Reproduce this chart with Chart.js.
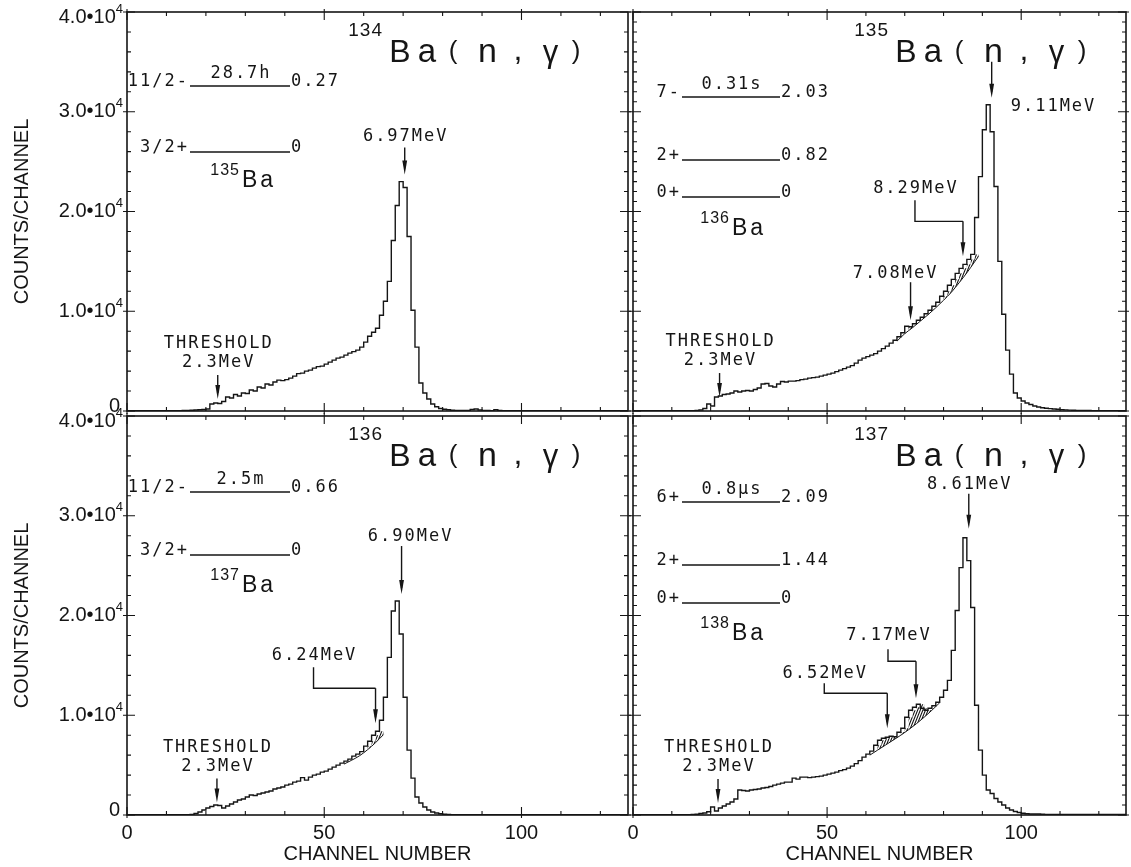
<!DOCTYPE html>
<html>
<head>
<meta charset="utf-8">
<title>Ba(n,γ) spectra</title>
<script src="https://cdn.jsdelivr.net/npm/chart.js@4.4.1/dist/chart.umd.min.js"></script>
<style>
  html, body { margin: 0; padding: 0; background: #fff; }
  #wrap { position: relative; width: 1131px; height: 867px; overflow: hidden; }
  #wrap canvas { position: absolute; left: 0; top: 0; }
</style>
</head>
<body>
<div id="wrap">
  <canvas id="ba134" width="1131" height="867"></canvas>
  <canvas id="ba135" width="1131" height="867"></canvas>
  <canvas id="ba136" width="1131" height="867"></canvas>
  <canvas id="ba137" width="1131" height="867"></canvas>
</div>
<script>
const W = 1131, H = 867;
const INK = '#151515';
const SANS = '"Liberation Sans", Arial, sans-serif';
const MONO = '"DejaVu Sans Mono", monospace';

const CH_MAX = 127;
const COUNT_MAX = 40000;

// counts per channel, channel 0 first
const counts134 = [
  40, 40, 30, 30, 30, 30, 30, 30, 30, 30,
  30, 30, 30, 40, 40, 50, 60, 80, 100, 120,
  150, 200, 700, 800, 750, 950, 1400, 1300, 1650, 1500,
  1800, 1750, 2100, 2000, 2400, 2300, 2700, 2600, 2900, 3100,
  3050, 3150, 3300, 3500, 3750, 3800, 4000, 4100, 4300, 4450,
  4500, 4700, 4900, 5100, 5300, 5400, 5600, 5800, 5950, 6100,
  6400, 6900, 7500, 7900, 8300, 9600, 11000, 13000, 17100, 20600,
  23000, 22400, 17500, 10100, 6400, 2800, 1800, 1200, 700, 430,
  250, 170, 120, 80, 60, 50, 50, 60, 150, 200,
  100, 60, 50, 40, 120, 60, 40, 40, 40, 40,
  40, 40, 40, 40, 40, 40, 40, 40, 40, 40,
  40, 40, 40, 40, 40, 40, 40, 40, 40, 40,
  40, 40, 40, 40, 40, 40, 40
];
const counts135 = [
  30, 30, 30, 30, 30, 30, 30, 30, 30, 30,
  30, 30, 30, 30, 30, 30, 30, 50, 100, 250,
  700, 500, 1400, 1500, 1650, 1700, 1800, 2000, 1900, 2000,
  2050, 2000, 2150, 2300, 2700, 2750, 2500, 2400, 2700, 2950,
  2900, 3000, 3000, 3050, 3150, 3200, 3300, 3350, 3400, 3500,
  3600, 3700, 3800, 3950, 4100, 4250, 4400, 4550, 4800, 5100,
  5300, 5450, 5600, 5750, 6000, 6250, 6500, 6800, 7100, 7450,
  7850, 8500, 8450, 8750, 9100, 9400, 9750, 10100, 10500, 10900,
  11500, 12000, 12600, 13200, 13800, 14300, 14700, 15200, 15700, 19400,
  23500, 28200, 30700, 28000, 22500, 15000, 9700, 6100, 3700, 1800,
  1300, 1000, 800, 650, 500, 400, 330, 280, 240, 200,
  170, 140, 110, 90, 70, 50, 50, 50, 50, 40,
  40, 40, 40, 40, 40, 40, 40
];
const counts136 = [
  30, 30, 30, 30, 30, 30, 30, 30, 30, 30,
  30, 30, 30, 30, 30, 30, 30, 60, 150, 300,
  500, 700, 850, 1000, 950, 700, 900, 1100, 1300, 1500,
  1600, 1800, 2000, 1950, 2100, 2200, 2300, 2400, 2600, 2700,
  2800, 3000, 3100, 3300, 3400, 3750, 3500, 3800, 4000, 4100,
  4300, 4400, 4600, 4800, 5000, 5200, 5400, 5600, 5900, 6100,
  6350, 6900, 7400, 8000, 8400, 9500, 11800, 15800, 20450, 21450,
  18150, 11800, 6500, 3700, 1800, 1200, 800, 500, 300, 200,
  120, 80, 50, 40, 40, 40, 40, 40, 40, 40,
  40, 40, 40, 40, 40, 40, 40, 40, 40, 40,
  40, 40, 40, 40, 40, 40, 40, 40, 40, 40,
  40, 40, 40, 40, 40, 40, 40, 40, 40, 40,
  40, 40, 40, 40, 40, 40, 40
];
const counts137 = [
  30, 30, 30, 30, 30, 30, 30, 30, 30, 30,
  30, 30, 30, 30, 30, 30, 50, 80, 150, 200,
  330, 800, 400, 700, 900, 1100, 1300, 1600, 2500, 2450,
  2400, 2500, 2550, 2600, 2700, 2750, 2850, 3000, 3100, 3200,
  3300, 3300, 3700, 3600, 3800, 3800, 3750, 3800, 3850, 3900,
  4000, 4100, 4200, 4300, 4450, 4550, 4700, 4900, 5150, 5450,
  5800, 6100, 6400, 7000, 7500, 7700, 7800, 7900, 7850, 8300,
  8700, 9800, 10500, 10800, 11100, 10700, 10500, 10700, 10950, 11300,
  11800, 12500, 13500, 16500, 20500, 24800, 27800, 25500, 20800, 11000,
  6500, 4000, 2500, 2150, 1650, 1300, 1000, 700, 500, 350,
  250, 170, 120, 100, 100, 100, 80, 50, 50, 50,
  50, 50, 50, 50, 50, 50, 50, 50, 50, 50,
  50, 50, 50, 50, 50, 50, 50
];

// smooth continuum drawn under the hatched lines
const bgChannels135 = [68, 70, 72, 74, 76, 78, 80, 82, 84, 86, 88, 89];
const bgCounts135 = [7000, 7750, 8350, 9000, 9650, 10350, 11100, 11900, 12850, 13850, 14950, 15500];
const bgChannels136 = [55, 57, 59, 61, 63, 65];
const bgCounts136 = [5100, 5500, 5950, 6550, 7250, 8050];
const bgChannels137 = [61, 63, 65, 67, 69, 71, 73, 75, 77, 79];
const bgCounts137 = [6000, 6500, 7000, 7500, 8000, 8550, 9150, 9800, 10500, 11250];

// axis ticks
const yTickValues = [0, 10000, 20000, 30000, 40000];
const yTickMantissa = ['0', '1.0•10', '2.0•10', '3.0•10', '4.0•10'];
const yTickExponent = ['', '4', '4', '4', '4'];
const xTickValues = [0, 50, 100];
const xTickStep = 10;

const threshold = [['THRESHOLD', 0, -55], ['2.3MeV', 0, -36]];

const panels = [
  {
    id: 'ba134', area: { left: 127, right: 628, top: 12, bottom: 411 },
    counts: counts134, yMinor: 2000, yLabels: true, xLabels: false,
    target: '134',
    levels: { x0: 63, x1: 163, nucleus: '135', nucX: 114, nucY: 175,
      rows: [{ y: 74, spin: '11/2-', life: '28.7h', e: '0.27' }, { y: 140, spin: '3/2+', e: '0' }] },
    arrows: [
      { ch: 23, gap: 4, len: 24, lines: threshold },
      { ch: 70.4, gap: 7, len: 27, lines: [['6.97MeV', 0, -38]] }
    ],
    hatch: []
  },
  {
    id: 'ba135', area: { left: 633, right: 1126, top: 12, bottom: 411 },
    counts: counts135, bgCh: bgChannels135, bgVal: bgCounts135, yMinor: 1000, yLabels: false, xLabels: false,
    target: '135',
    levels: { x0: 49, x1: 147, nucleus: '136', nucX: 98, nucY: 223,
      rows: [{ y: 85, spin: '7-', life: '0.31s', e: '2.03' }, { y: 148, spin: '2+', e: '0.82' }, { y: 185, spin: '0+', e: '0' }] },
    arrows: [
      { ch: 22.3, gap: 0, len: 24, lines: threshold },
      { ch: 92.4, gap: 7, len: 36, lines: [['9.11MeV', 19, 9, 'left']] },
      { ch: 71.5, gap: 6, len: 38, lines: [['7.08MeV', -16, -47]] },
      { ch: 85, gap: 12, drop: 35, dx: 48, rise: 21, labelGap: 12, text: '8.29MeV' }
    ],
    hatch: [[71, 72], [80, 89]]
  },
  {
    id: 'ba136', area: { left: 127, right: 628, top: 416, bottom: 815 },
    counts: counts136, bgCh: bgChannels136, bgVal: bgCounts136, yMinor: 2000, yLabels: true, xLabels: true,
    target: '136',
    levels: { x0: 63, x1: 163, nucleus: '137', nucX: 114, nucY: 176,
      rows: [{ y: 76, spin: '11/2-', life: '2.5m', e: '0.66' }, { y: 139, spin: '3/2+', e: '0' }] },
    arrows: [
      { ch: 22.8, gap: 4, len: 24, lines: threshold },
      { ch: 69.6, gap: 7, len: 48, lines: [['6.90MeV', 8, -57]] },
      { ch: 63, gap: 12, drop: 35, dx: 62, rise: 21, labelGap: 12, text: '6.24MeV' }
    ],
    hatch: [[61, 65]]
  },
  {
    id: 'ba137', area: { left: 633, right: 1126, top: 416, bottom: 815 },
    counts: counts137, bgCh: bgChannels137, bgVal: bgCounts137, yMinor: 1000, yLabels: false, xLabels: true,
    target: '137',
    levels: { x0: 49, x1: 147, nucleus: '138', nucX: 98, nucY: 224,
      rows: [{ y: 86, spin: '6+', life: '0.8μs', e: '2.09' }, { y: 149, spin: '2+', e: '1.44' }, { y: 187, spin: '0+', e: '0' }] },
    arrows: [
      { ch: 21.9, gap: 4, len: 24, lines: threshold },
      { ch: 86.5, gap: 9, len: 35, lines: [['8.61MeV', 0, -44]] },
      { ch: 72.9, gap: 12, drop: 37, dx: 28, rise: 12, labelGap: 14, text: '7.17MeV' },
      { ch: 65.5, gap: 10, drop: 35, dx: 63, rise: 10, labelGap: 10, text: '6.52MeV' }
    ],
    hatch: [[63, 68], [69, 77]]
  }
];

function putText(ctx, s, x, y, font, align, baseline, spacing) {
  ctx.font = font;
  ctx.textAlign = align;
  ctx.textBaseline = baseline;
  ctx.letterSpacing = spacing || '0px';
  ctx.fillText(s, x, y);
}

function monoLabel(ctx, s, x, y, align) {
  putText(ctx, s, x + (align === 'center' ? 1 : 0), y, '17px ' + MONO, align || 'center', 'middle', '2px');
}

function bgValueAt(p, c) {
  const ch = p.bgCh, v = p.bgVal;
  for (let i = 1; i < ch.length; i++) {
    if (c <= ch[i]) {
      const t = (c - ch[i - 1]) / (ch[i] - ch[i - 1]);
      return v[i - 1] + t * (v[i] - v[i - 1]);
    }
  }
  return v[v.length - 1];
}

// diagonal hatching between the histogram and the continuum
function drawHatch(chart, p) {
  const ctx = chart.ctx, xs = chart.scales.x, ys = chart.scales.y;
  p.hatch.forEach(([a, b]) => {
    ctx.save();
    ctx.beginPath();
    let yMin = Infinity, yMax = -Infinity;
    for (let c = a; c < b; c++) {
      const y = ys.getPixelForValue(p.counts[c]);
      const x0 = xs.getPixelForValue(c), x1 = xs.getPixelForValue(c + 1);
      if (c === a) ctx.moveTo(x0, y); else ctx.lineTo(x0, y);
      ctx.lineTo(x1, y);
      yMin = Math.min(yMin, y);
    }
    for (let c = b; c >= a; c -= 0.25) {
      const y = ys.getPixelForValue(bgValueAt(p, c));
      ctx.lineTo(xs.getPixelForValue(c), y);
      yMax = Math.max(yMax, y);
    }
    ctx.closePath();
    ctx.clip();
    ctx.strokeStyle = INK;
    ctx.lineWidth = 1.1;
    const xa = xs.getPixelForValue(a) - 20, xb = xs.getPixelForValue(b) + 4;
    const h = yMax - yMin + 4;
    ctx.beginPath();
    for (let x = xa; x < xb; x += 2.6) {
      ctx.moveTo(x, yMax + 2);
      ctx.lineTo(x + h * 0.4, yMax + 2 - h);
    }
    ctx.stroke();
    ctx.restore();
  });
}

function drawFrame(chart, p) {
  const ctx = chart.ctx, xs = chart.scales.x, ys = chart.scales.y;
  const { left, right, top, bottom } = chart.chartArea;
  ctx.save();
  ctx.strokeStyle = INK;
  ctx.lineWidth = 1.6;
  ctx.strokeRect(left, top, right - left, bottom - top);
  ctx.lineWidth = 1.1;
  ctx.beginPath();
  for (let c = 0; c <= CH_MAX; c += xTickStep) {
    const x = xs.getPixelForValue(c);
    const major = xTickValues.includes(c);
    const len = major ? 8 : 4;
    ctx.moveTo(x, bottom + (major ? 3 : 0)); ctx.lineTo(x, bottom - len);
    ctx.moveTo(x, top - (major ? 3 : 0)); ctx.lineTo(x, top + len);
  }
  for (let v = 0; v <= COUNT_MAX; v += p.yMinor) {
    const y = ys.getPixelForValue(v);
    const major = v % 10000 === 0;
    const len = major ? 8 : 4;
    ctx.moveTo(left - (major ? 4 : 0), y); ctx.lineTo(left + len, y);
    ctx.moveTo(right + (major ? 3 : 0), y); ctx.lineTo(right - len, y);
  }
  ctx.stroke();
  ctx.restore();
}

function drawTitle(chart, p) {
  const ctx = chart.ctx, { left, top } = chart.chartArea;
  const bx = left + 262, base = top + 50;
  ctx.save();
  ctx.fillStyle = INK;
  putText(ctx, p.target, bx - 6, base - 31, '19px ' + SANS, 'right', 'middle', '1px');
  const glyphs = [['B', 11, 0, 32], ['a', 38, 0, 33], ['(', 64, -3, 26], ['n', 98.5, 0, 34],
    [',', 129, -2, 32], ['γ', 161.5, 0, 31], [')', 187, -3, 26]];
  glyphs.forEach(([g, dx, dy, size]) => putText(ctx, g, bx + dx, base + dy, size + 'px ' + SANS, 'center', 'alphabetic'));
  ctx.restore();
}

function drawLevels(chart, p) {
  const ctx = chart.ctx, { left, top } = chart.chartArea, L = p.levels;
  const x0 = left + L.x0, x1 = left + L.x1;
  ctx.save();
  ctx.fillStyle = INK;
  ctx.strokeStyle = INK;
  ctx.lineWidth = 1.5;
  L.rows.forEach(r => {
    const y = top + r.y;
    ctx.beginPath(); ctx.moveTo(x0, y); ctx.lineTo(x1, y); ctx.stroke();
    putText(ctx, r.spin, x0 - 1, y, '17px ' + MONO, 'right', 'alphabetic', '2px');
    putText(ctx, r.e, x1 + 1, y, '17px ' + MONO, 'left', 'alphabetic', '2px');
    if (r.life) putText(ctx, r.life, (x0 + x1) / 2 + 1, y - 8, '17px ' + MONO, 'center', 'alphabetic', '2px');
  });
  putText(ctx, L.nucleus, left + L.nucX - 1, top + L.nucY - 16, '16px ' + SANS, 'right', 'middle', '1px');
  putText(ctx, 'Ba', left + L.nucX + 1, top + L.nucY, '23px ' + SANS, 'left', 'alphabetic', '3px');
  ctx.restore();
}

function arrowDown(ctx, x, yTop, yTip) {
  ctx.beginPath(); ctx.moveTo(x, yTop); ctx.lineTo(x, yTip - 6); ctx.stroke();
  ctx.beginPath();
  ctx.moveTo(x - 2.4, yTip - 14); ctx.lineTo(x + 2.4, yTip - 14); ctx.lineTo(x, yTip);
  ctx.closePath(); ctx.fill();
}

function drawArrows(chart, p) {
  const ctx = chart.ctx, xs = chart.scales.x, ys = chart.scales.y;
  ctx.save();
  ctx.strokeStyle = INK;
  ctx.fillStyle = INK;
  ctx.lineWidth = 1.4;
  p.arrows.forEach(a => {
    const x = xs.getPixelForValue(a.ch);
    const tip = ys.getPixelForValue(p.counts[Math.floor(a.ch)]) - a.gap;
    if (a.dx) {
      // bent leader from a label set off to the left
      const elbow = tip - a.drop, stemX = x - a.dx, stemTop = elbow - a.rise;
      ctx.beginPath(); ctx.moveTo(stemX, stemTop); ctx.lineTo(stemX, elbow); ctx.lineTo(x, elbow); ctx.stroke();
      arrowDown(ctx, x, elbow, tip);
      monoLabel(ctx, a.text, stemX, stemTop - a.labelGap, 'center');
    } else {
      arrowDown(ctx, x, tip - a.len, tip);
      a.lines.forEach(([s, lx, ly, align]) => monoLabel(ctx, s, x + lx, tip + ly, align || 'center'));
    }
  });
  ctx.restore();
}

function drawAxisText(chart, p) {
  const ctx = chart.ctx, xs = chart.scales.x, ys = chart.scales.y;
  const { left, right, top, bottom } = chart.chartArea;
  ctx.save();
  ctx.fillStyle = INK;
  if (p.yLabels) {
    yTickValues.forEach((v, i) => {
      const y = Math.min(Math.max(ys.getPixelForValue(v), top + 5), bottom - 5);
      if (!yTickExponent[i]) {
        putText(ctx, yTickMantissa[i], left - 7, y, '20px ' + SANS, 'right', 'middle');
        return;
      }
      ctx.font = '13px ' + SANS;
      const ew = ctx.measureText(yTickExponent[i]).width;
      putText(ctx, yTickMantissa[i], left - 4 - ew, y, '20px ' + SANS, 'right', 'middle');
      putText(ctx, yTickExponent[i], left - 4 - ew, y - 8, '13px ' + SANS, 'left', 'middle');
    });
    ctx.save();
    ctx.translate(22, (top + bottom) / 2);
    ctx.rotate(-Math.PI / 2);
    putText(ctx, 'COUNTS/CHANNEL', 0, 0, '20px ' + SANS, 'center', 'middle');
    ctx.restore();
  }
  if (p.xLabels) {
    xTickValues.forEach(v => putText(ctx, String(v), xs.getPixelForValue(v), bottom + 18, '20px ' + SANS, 'center', 'middle'));
    putText(ctx, 'CHANNEL NUMBER', (left + right) / 2, bottom + 39, '20px ' + SANS, 'center', 'middle');
  }
  ctx.restore();
}

function makeDecor(p) {
  return {
    id: 'decor_' + p.id,
    beforeDatasetsDraw(chart) { drawHatch(chart, p); },
    afterDatasetsDraw(chart) {
      drawFrame(chart, p);
      drawTitle(chart, p);
      drawLevels(chart, p);
      drawArrows(chart, p);
      drawAxisText(chart, p);
    }
  };
}

panels.forEach(p => {
  // one step per channel, closed off at the right edge
  const hist = p.counts.map((v, i) => ({ x: i, y: v }));
  hist.push({ x: p.counts.length, y: p.counts[p.counts.length - 1] });
  const datasets = [{
    data: hist, stepped: 'after', borderColor: INK, borderWidth: 1.4,
    pointRadius: 0, fill: false
  }];
  if (p.bgCh) {
    datasets.push({
      data: p.bgCh.map((c, i) => ({ x: c, y: p.bgVal[i] })),
      borderColor: INK, borderWidth: 1, pointRadius: 0, fill: false,
      cubicInterpolationMode: 'monotone'
    });
  }
  const a = p.area;
  new Chart(document.getElementById(p.id), {
    type: 'line',
    data: { datasets },
    options: {
      responsive: false,
      animation: false,
      devicePixelRatio: 1,
      events: [],
      layout: { padding: { left: a.left, top: a.top, right: W - a.right, bottom: H - a.bottom } },
      scales: {
        x: { type: 'linear', min: 0, max: CH_MAX, display: false },
        y: { type: 'linear', min: 0, max: COUNT_MAX, display: false }
      },
      plugins: { legend: { display: false }, tooltip: { enabled: false } }
    },
    plugins: [makeDecor(p)]
  });
});
</script>
</body>
</html>
